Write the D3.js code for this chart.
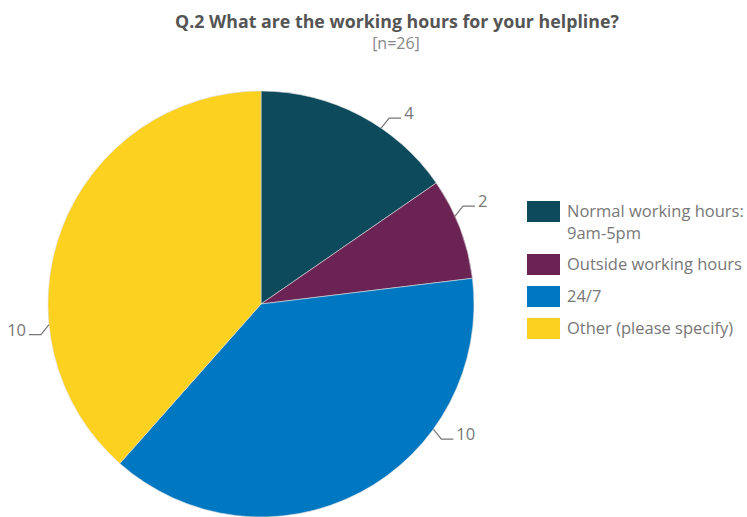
<!DOCTYPE html>
<html>
<head>
<meta charset="utf-8">
<script src="https://cdn.jsdelivr.net/npm/d3@7"></script>
<style>
  body { margin: 0; background: #fff; }
  text { font-family: "Open Sans", sans-serif; }
</style>
</head>
<body>
<svg id="viz" width="747" height="517"></svg>
<script>
// chart data
const categories = ["Normal working hours: 9am-5pm", "Outside working hours", "24/7", "Other (please specify)"];
const legendLines = [["Normal working hours:", "9am-5pm"], ["Outside working hours"], ["24/7"], ["Other (please specify)"]];
const values = [4, 2, 10, 10];
const colors = ["#0c4a5c", "#6a2353", "#0078c1", "#fdd11f"];
// where along each slice the leader line leaves the edge (0 = start, 1 = end)
const labelPos = [0.62, 0.37, 0.31, 0.31];

var svg = d3.select("#viz");
var cx = 261, cy = 304, radius = 213;

svg.append("text")
    .attr("x", 397).attr("y", 28)
    .attr("text-anchor", "middle")
    .attr("font-size", 17.8)
    .attr("font-weight", 700)
    .attr("fill", "#555")
    .text("Q.2 What are the working hours for your helpline?");

svg.append("text")
    .attr("x", 396).attr("y", 49)
    .attr("text-anchor", "middle")
    .attr("font-size", 16)
    .attr("fill", "#888")
    .text("[n=26]");

const pie = d3.pie().sort(null).value(d => d);
const arcs = pie(values);
const arc = d3.arc().innerRadius(0).outerRadius(radius);

var g = svg.append("g").attr("transform", `translate(${cx},${cy})`);

g.selectAll("path.slice")
    .data(arcs)
    .enter()
    .append("path")
    .attr("class", "slice")
    .attr("d", arc)
    .attr("fill", (d, i) => colors[i])
    .attr("stroke", "#ddd")
    .attr("stroke-width", 0.6);

// data labels with leader lines
arcs.forEach((d, i) => {
    const a = d.startAngle + labelPos[i] * (d.endAngle - d.startAngle);
    const x0 = radius * Math.sin(a), y0 = -radius * Math.cos(a);
    const sx = x0 >= 0 ? 1 : -1, sy = y0 >= 0 ? 1 : -1;
    const x1 = x0 + sx * 8, y1 = y0 + sy * 10;
    const x2 = x1 + sx * 12;
    g.append("polyline")
        .attr("points", [[x0, y0], [x1, y1], [x2, y1]].map(p => p.join(",")).join(" "))
        .attr("fill", "none")
        .attr("stroke", "#777")
        .attr("stroke-width", 1.2);
    g.append("text")
        .attr("x", x2 + sx * 3)
        .attr("y", y1 + 1)
        .attr("text-anchor", sx > 0 ? "start" : "end")
        .attr("font-size", 16.5)
        .attr("fill", "#777")
        .text(values[i]);
});

// legend
const legendY = [201, 254, 286, 318];
var legend = svg.append("g").attr("id", "legend");
legendLines.forEach((lines, i) => {
    legend.append("rect")
        .attr("x", 527).attr("y", legendY[i])
        .attr("width", 33).attr("height", 21)
        .attr("fill", colors[i]);
    const t = legend.append("text")
        .attr("x", 567).attr("y", legendY[i] + 16)
        .attr("font-size", 16.5)
        .attr("fill", "#777");
    lines.forEach((ln, j) => {
        t.append("tspan").attr("x", 567).attr("dy", j === 0 ? 0 : 22).text(ln);
    });
});
</script>
</body>
</html>
